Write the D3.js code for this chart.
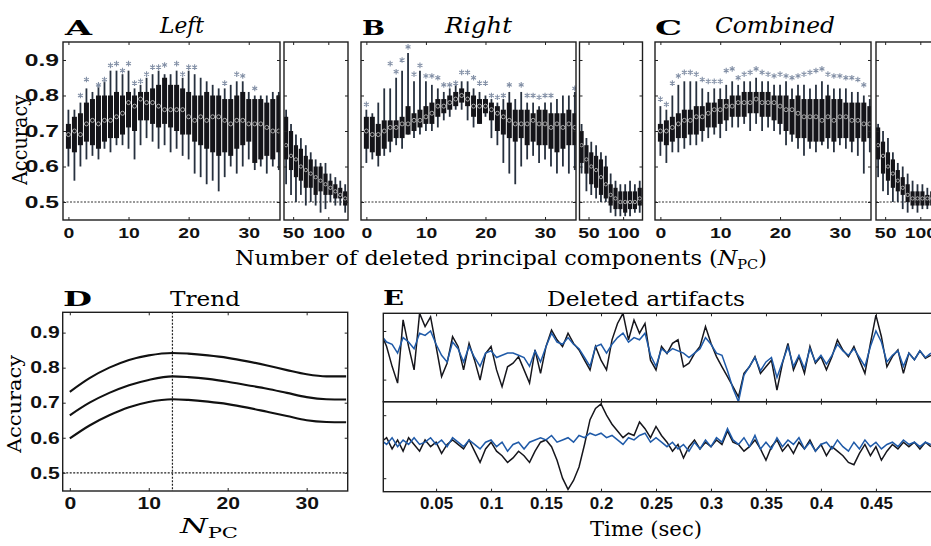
<!DOCTYPE html>
<html><head><meta charset="utf-8">
<script src="https://cdn.jsdelivr.net/npm/d3@7"></script>
<style>body{margin:0;background:#fff}svg{display:block}</style>
</head><body>
<script>
// ---------- DATA ----------
const npcMain = [0,1,2,3,4,5,6,7,8,9,10,11,12,13,14,15,16,17,18,19,20,21,22,23,24,25,26,27,28,29,30,31,32,33,34,35];
const npcSub = [40,47,54,61,68,75,82,89,96,103,110,117,124];
const mainTicks = [0,10,20,30];
const subTicks = [50,100];
const accTicks = [0.5,0.6,0.7,0.8,0.9];

const leftMed  = [0.69,0.70,0.69,0.72,0.73,0.72,0.73,0.73,0.74,0.75,0.78,0.77,0.79,0.78,0.78,0.77,0.76,0.76,0.76,0.76,0.74,0.73,0.74,0.73,0.74,0.74,0.73,0.72,0.73,0.73,0.72,0.72,0.72,0.71,0.70,0.70];
const leftQ1   = [0.65,0.64,0.66,0.67,0.66,0.65,0.67,0.68,0.68,0.69,0.71,0.70,0.73,0.73,0.72,0.71,0.72,0.71,0.70,0.69,0.69,0.67,0.66,0.65,0.64,0.63,0.64,0.63,0.65,0.66,0.67,0.61,0.62,0.63,0.62,0.64];
const leftQ3   = [0.72,0.74,0.75,0.78,0.79,0.80,0.80,0.80,0.81,0.80,0.81,0.80,0.81,0.81,0.82,0.83,0.85,0.83,0.83,0.82,0.81,0.80,0.80,0.81,0.80,0.80,0.79,0.79,0.80,0.81,0.79,0.79,0.79,0.78,0.79,0.80];
const leftLo   = [0.60,0.56,0.60,0.62,0.63,0.62,0.65,0.64,0.66,0.66,0.65,0.62,0.66,0.68,0.67,0.65,0.66,0.64,0.65,0.63,0.62,0.58,0.57,0.55,0.56,0.53,0.57,0.60,0.58,0.60,0.62,0.59,0.60,0.58,0.60,0.59];
const leftHi   = [0.76,0.76,0.78,0.82,0.81,0.83,0.84,0.87,0.87,0.86,0.87,0.82,0.83,0.85,0.86,0.87,0.86,0.86,0.87,0.85,0.87,0.86,0.85,0.84,0.83,0.82,0.82,0.83,0.84,0.84,0.81,0.80,0.80,0.80,0.81,0.81];
const leftStar = [null,null,0.80,0.845,null,0.83,0.845,0.885,0.89,0.87,0.89,0.835,0.84,0.86,0.88,0.88,0.886,null,0.89,0.86,0.88,0.88,null,null,null,null,0.835,null,0.86,0.855,null,0.82,null,null,null,null];
const leftSubMed = [0.66,0.63,0.62,0.60,0.59,0.58,0.57,0.56,0.55,0.54,0.53,0.52,0.51];
const leftSubQ1  = [0.62,0.59,0.57,0.56,0.54,0.54,0.52,0.53,0.52,0.52,0.51,0.51,0.49];
const leftSubQ3  = [0.74,0.70,0.66,0.65,0.63,0.62,0.60,0.60,0.58,0.56,0.55,0.54,0.53];
const leftSubLo  = [0.55,0.52,0.50,0.52,0.49,0.50,0.49,0.47,0.48,0.50,0.49,0.49,0.47];
const leftSubHi  = [0.76,0.72,0.69,0.68,0.66,0.64,0.62,0.61,0.61,0.58,0.57,0.56,0.55];

const rightMed  = [0.70,0.69,0.69,0.70,0.71,0.71,0.72,0.72,0.73,0.73,0.74,0.75,0.77,0.77,0.78,0.79,0.80,0.79,0.77,0.77,0.77,0.76,0.75,0.74,0.73,0.72,0.72,0.72,0.73,0.72,0.72,0.71,0.72,0.71,0.72,0.71];
const rightQ1   = [0.65,0.64,0.63,0.65,0.67,0.68,0.68,0.69,0.70,0.71,0.72,0.72,0.74,0.75,0.76,0.77,0.78,0.77,0.74,0.72,0.75,0.73,0.70,0.69,0.68,0.67,0.68,0.66,0.67,0.66,0.66,0.65,0.64,0.65,0.66,0.66];
const rightQ3   = [0.74,0.74,0.72,0.73,0.73,0.73,0.74,0.77,0.75,0.76,0.77,0.78,0.79,0.79,0.80,0.81,0.82,0.81,0.80,0.79,0.79,0.78,0.77,0.76,0.78,0.76,0.76,0.76,0.75,0.76,0.76,0.75,0.75,0.75,0.76,0.75];
const rightLo   = [0.61,0.62,0.60,0.63,0.64,0.66,0.65,0.69,0.68,0.69,0.70,0.70,0.71,0.73,0.74,0.76,0.76,0.73,0.71,0.72,0.74,0.68,0.66,0.61,0.58,0.55,0.60,0.62,0.63,0.61,0.62,0.60,0.58,0.60,0.58,0.59];
const rightHi   = [0.76,0.75,0.78,0.82,0.82,0.85,0.87,0.92,0.84,0.87,0.84,0.83,0.82,0.81,0.82,0.83,0.84,0.84,0.82,0.81,0.80,0.79,0.78,0.79,0.81,0.79,0.81,0.78,0.78,0.77,0.78,0.78,0.79,0.80,0.80,0.81];
const rightStar = [0.775,null,null,null,0.89,0.867,0.90,0.937,0.86,0.885,0.855,0.855,0.85,0.83,0.83,0.835,0.865,0.865,0.85,0.835,0.835,0.80,0.795,0.80,0.83,null,0.83,0.80,0.80,0.795,0.80,0.80,null,null,null,0.82];
const rightSubMed = [0.66,0.62,0.60,0.59,0.57,0.55,0.52,0.51,0.50,0.50,0.50,0.50,0.51];
const rightSubQ1  = [0.61,0.58,0.55,0.54,0.52,0.51,0.49,0.48,0.48,0.47,0.48,0.48,0.49];
const rightSubQ3  = [0.70,0.66,0.64,0.63,0.62,0.60,0.55,0.54,0.53,0.53,0.53,0.53,0.54];
const rightSubLo  = [0.58,0.53,0.52,0.51,0.50,0.50,0.47,0.46,0.46,0.46,0.46,0.47,0.47];
const rightSubHi  = [0.72,0.68,0.67,0.66,0.64,0.63,0.58,0.56,0.55,0.55,0.56,0.55,0.56];

const combMed  = [0.70,0.70,0.71,0.72,0.73,0.73,0.74,0.74,0.75,0.76,0.76,0.77,0.77,0.78,0.78,0.78,0.79,0.78,0.78,0.78,0.77,0.76,0.76,0.75,0.74,0.74,0.74,0.73,0.74,0.73,0.74,0.74,0.73,0.73,0.72,0.72];
const combQ1   = [0.67,0.66,0.67,0.68,0.68,0.69,0.69,0.70,0.71,0.71,0.72,0.73,0.74,0.74,0.74,0.75,0.75,0.74,0.74,0.73,0.72,0.70,0.69,0.68,0.68,0.67,0.67,0.67,0.68,0.67,0.68,0.68,0.67,0.68,0.67,0.68];
const combQ3   = [0.72,0.73,0.74,0.75,0.76,0.76,0.77,0.77,0.78,0.78,0.79,0.79,0.80,0.80,0.81,0.81,0.81,0.81,0.81,0.80,0.80,0.80,0.79,0.80,0.79,0.79,0.79,0.79,0.80,0.79,0.79,0.78,0.78,0.78,0.78,0.77];
const combLo   = [0.63,0.61,0.64,0.64,0.65,0.66,0.66,0.67,0.68,0.69,0.68,0.70,0.71,0.71,0.72,0.70,0.72,0.70,0.71,0.70,0.69,0.66,0.67,0.65,0.63,0.65,0.64,0.66,0.65,0.64,0.66,0.65,0.64,0.63,0.58,0.64];
const combHi   = [0.77,0.76,0.80,0.83,0.84,0.84,0.84,0.82,0.81,0.82,0.82,0.83,0.84,0.83,0.84,0.84,0.85,0.84,0.84,0.83,0.83,0.84,0.82,0.83,0.83,0.82,0.83,0.84,0.83,0.82,0.82,0.82,0.81,0.81,0.80,0.79];
const combStar = [0.79,0.775,0.835,0.855,0.865,0.865,0.86,0.845,0.84,0.84,0.84,0.87,0.875,0.85,0.86,0.865,0.875,0.865,0.86,0.855,0.86,0.855,0.85,0.855,0.86,0.865,0.87,0.875,0.86,0.855,0.855,0.85,0.85,0.845,0.83,null];
const combSubMed = [0.66,0.63,0.60,0.58,0.56,0.54,0.52,0.51,0.51,0.51,0.51,0.51,0.51];
const combSubQ1  = [0.62,0.58,0.56,0.54,0.53,0.52,0.50,0.49,0.49,0.49,0.49,0.49,0.49];
const combSubQ3  = [0.71,0.67,0.64,0.62,0.59,0.57,0.55,0.53,0.53,0.53,0.52,0.53,0.53];
const combSubLo  = [0.57,0.53,0.52,0.50,0.50,0.48,0.47,0.48,0.47,0.48,0.48,0.47,0.48];
const combSubHi  = [0.72,0.70,0.68,0.64,0.61,0.60,0.58,0.56,0.55,0.55,0.54,0.55,0.55];

const trendNpc   = [0,2.5,5,7.5,10,13,15,17.5,20,22.5,25,27.5,30,32.5,35];
const trendUpper = [0.731,0.77,0.80,0.822,0.835,0.842,0.84,0.835,0.828,0.818,0.806,0.793,0.781,0.775,0.775];
const trendMid   = [0.664,0.70,0.728,0.75,0.765,0.775,0.773,0.768,0.76,0.75,0.74,0.728,0.716,0.71,0.709];
const trendLower = [0.598,0.635,0.664,0.687,0.702,0.71,0.708,0.703,0.696,0.686,0.674,0.662,0.65,0.645,0.644];
const trendPeak = 13;

const timeSec = [0,0.005,0.01,0.015,0.02,0.025,0.03,0.035,0.04,0.045,0.05,0.055,0.06,0.065,0.07,0.075,0.08,0.085,0.09,0.095,0.1,0.105,0.11,0.115,0.12,0.125,0.13,0.135,0.14,0.145,0.15,0.155,0.16,0.165,0.17,0.175,0.18,0.185,0.19,0.195,0.2,0.205,0.21,0.215,0.22,0.225,0.23,0.235,0.24,0.245,0.25,0.255,0.26,0.265,0.27,0.275,0.28,0.285,0.29,0.295,0.3,0.305,0.31,0.315,0.32,0.325,0.33,0.335,0.34,0.345,0.35,0.355,0.36,0.365,0.37,0.375,0.38,0.385,0.39,0.395,0.4,0.405,0.41,0.415,0.42,0.425,0.43,0.435,0.44,0.445,0.45,0.455,0.46,0.465,0.47,0.475,0.48,0.485,0.49,0.495,0.5];
const timeTicks = [0.05,0.1,0.15,0.2,0.25,0.3,0.35,0.4,0.45];
const eTopBlack = [0.55,0.25,-0.2,-0.58,0.85,0.25,-0.28,1.0,0.7,0.92,
 0.25,-0.43,-0.13,0.47,0.25,-0.28,0.32,-0.06,-0.51,0.09,
 0.25,-0.28,-0.66,-0.21,-0.13,0.02,-0.28,-0.58,0.17,-0.36,
 0.25,0.62,0.4,0.25,0.55,0.32,0.17,-0.06,-0.28,0.25,
 -0.06,-0.28,0.4,0.77,1.0,0.4,0.85,0.55,0.77,-0.06,
 -0.28,0.25,0.09,0.32,0.4,-0.21,-0.13,0.09,0.25,0.7,
 0.32,0.02,-0.21,-0.43,-0.66,-0.89,-0.36,-0.21,0.02,-0.36,
 -0.21,-0.06,-0.74,-0.13,0.32,-0.28,0.02,-0.36,0.25,-0.13,
 0.02,-0.28,0.02,0.4,0.17,0.02,0.25,-0.06,-0.36,0.32,
 0.96,0.47,-0.21,0.02,0.17,-0.36,0.1,-0.05,0.15,-0.02,0.05];
const eTopBlue = [0.5,0.35,0.3,0.1,0.45,0.35,0.2,0.55,0.5,0.6,
 0.3,0.05,-0.1,0.35,0.2,-0.1,0.25,0.0,-0.2,0.1,
 0.15,0.0,0.05,0.1,0.1,0.05,0.0,-0.2,0.15,-0.1,
 0.25,0.55,0.35,0.3,0.45,0.3,0.2,0.0,-0.2,0.25,
 0.3,0.1,0.3,0.45,0.55,0.35,0.45,0.4,0.55,0.05,
 -0.2,0.2,0.1,0.2,0.15,0.1,0.0,0.1,0.2,0.45,
 0.3,0.1,0.05,-0.3,-0.7,-1.0,-0.4,-0.2,0.0,-0.3,
 -0.1,0.0,-0.45,-0.1,0.25,-0.2,0.05,-0.25,0.2,-0.1,
 0.05,-0.15,0.05,0.3,0.15,0.05,0.2,0.0,-0.2,0.25,
 0.6,0.35,-0.1,0.05,0.15,-0.2,0.1,-0.05,0.15,0.0,0.1];
const eBotBlack = [0.1,0.2,-0.05,0.15,-0.1,0.2,0.05,-0.1,0.15,0.0,
 0.1,-0.15,0.05,0.15,0.05,-0.05,0.15,-0.1,-0.35,-0.05,
 0.1,-0.1,-0.2,-0.35,-0.25,-0.1,-0.2,-0.35,-0.1,0.1,
 0.15,0.0,-0.3,-0.7,-0.95,-0.75,-0.45,0.05,0.6,0.85,
 0.95,0.7,0.5,0.35,0.2,0.3,0.25,0.55,0.4,0.2,
 0.45,0.25,0.1,-0.1,0.05,-0.25,0.0,0.15,-0.05,0.1,
 0.0,0.15,0.05,0.35,0.1,0.05,-0.1,0.0,0.15,-0.05,
 -0.3,0.0,0.15,-0.1,0.05,-0.15,0.1,-0.05,0.15,-0.1,
 0.05,-0.2,0.0,-0.1,-0.2,-0.35,-0.4,-0.15,0.05,-0.2,
 0.0,-0.3,-0.1,0.05,-0.05,0.1,0.0,0.1,-0.05,0.1,0.0];
const eBotBlue = [0.15,0.05,0.2,0.0,0.15,0.05,0.2,0.05,0.1,0.2,
 0.05,0.15,0.0,0.2,0.1,0.0,0.15,0.05,-0.05,0.1,
 0.15,0.0,0.1,-0.1,0.05,0.1,-0.05,0.1,0.15,0.2,
 0.15,0.25,0.1,0.15,0.2,0.1,0.25,0.2,0.3,0.25,
 0.3,0.2,0.25,0.15,0.05,0.2,0.15,0.25,0.3,0.1,
 0.2,0.1,0.0,0.1,-0.05,0.05,-0.1,0.1,-0.05,0.15,
 0.0,0.2,0.1,0.4,0.15,0.05,0.2,0.0,0.25,-0.05,
 0.1,-0.05,0.2,0.0,0.15,0.05,0.2,-0.05,0.1,-0.1,
 0.05,0.1,-0.05,0.15,0.0,-0.1,0.1,-0.05,0.15,0.0,
 0.1,-0.05,0.05,0.1,0.0,0.15,0.05,0.1,0.0,0.1,0.05];

// ---------- DRAWING ----------
const SERIF = "'DejaVu Serif', serif";
const SANS = "'Liberation Sans', Arial, sans-serif";
const svg = d3.select('body').append('svg').attr('width',931).attr('height',546);
svg.append('rect').attr('width',931).attr('height',546).attr('fill','#fff');

function fit(t, w){ return t.attr('textLength', w).attr('lengthAdjust','spacingAndGlyphs'); }
function stretch(sel, f){ sel.each(function(){ const n=this.getComputedTextLength(); d3.select(this).attr('textLength', n*f).attr('lengthAdjust','spacingAndGlyphs'); }); }
const asterisk = d3.symbolAsterisk || d3.symbolCross;

const yAcc = d3.scaleLinear().domain([0.4493,0.9507]).range([220,42]);
const TOP=42, BOT=220;

const panels = [
  {letter:'A', lx:65, lw:27, title:'Left', tx:160, tw:44, mx:63, mw:217, sx:284, sw:64, ylab:true,
   d:[leftMed,leftQ1,leftQ3,leftLo,leftHi,leftStar], s:[leftSubMed,leftSubQ1,leftSubQ3,leftSubLo,leftSubHi]},
  {letter:'B', lx:362, lw:23, title:'Right', tx:445, tw:67, mx:361, mw:215, sx:579.5, sw:63, ylab:false,
   d:[rightMed,rightQ1,rightQ3,rightLo,rightHi,rightStar], s:[rightSubMed,rightSubQ1,rightSubQ3,rightSubLo,rightSubHi]},
  {letter:'C', lx:655, lw:27, title:'Combined', tx:715, tw:120, mx:655, mw:216, sx:876, sw:64, ylab:false,
   d:[combMed,combQ1,combQ3,combLo,combHi,combStar], s:[combSubMed,combSubQ1,combSubQ3,combSubLo,combSubHi]}
];

function drawBoxes(g, x, pos, arr, bw){
  const [med,q1,q3,lo,hi,star] = arr;
  pos.forEach((p,i)=>{
    const cx=x(p);
    g.append('line').attr('x1',cx).attr('x2',cx).attr('y1',yAcc(lo[i])).attr('y2',yAcc(hi[i]))
      .attr('stroke','#27313f').attr('stroke-width',1.8);
  });
  pos.forEach((p,i)=>{
    const cx=x(p);
    g.append('rect').attr('x',cx-bw/2).attr('width',bw).attr('y',yAcc(q3[i])).attr('height',yAcc(q1[i])-yAcc(q3[i]))
      .attr('fill','#141419');
  });
  pos.forEach((p,i)=>{
    g.append('circle').attr('cx',x(p)).attr('cy',yAcc(med[i])).attr('r',Math.min(2.1,bw*0.4))
      .attr('fill','none').attr('stroke','#c9c9c9').attr('stroke-width',0.8);
    if(star && star[i]!=null){
      g.append('path').attr('d',d3.symbol(asterisk,22)()).attr('transform',`translate(${x(p)},${yAcc(star[i])})`)
        .attr('stroke','#8390a6').attr('stroke-width',1.1).attr('fill','none');
    }
  });
}

function frame(g, x0, x1, y0, y1){
  g.append('rect').attr('x',x0).attr('y',y0).attr('width',x1-x0).attr('height',y1-y0)
    .attr('fill','none').attr('stroke','#1e1e1e').attr('stroke-width',1.4);
}

panels.forEach(P=>{
  const g = svg.append('g');
  const xm = d3.scaleLinear().domain([-0.9,35.2]).range([P.mx, P.mx+P.mw]);
  const xs = d3.scaleLinear().domain([37,128]).range([P.sx, P.sx+P.sw]);
  [[P.mx,P.mx+P.mw],[P.sx,P.sx+P.sw]].forEach(([a,b])=>{
    g.append('line').attr('x1',a).attr('x2',b).attr('y1',yAcc(0.5)).attr('y2',yAcc(0.5))
      .attr('stroke','#333').attr('stroke-width',1.1).attr('stroke-dasharray','2,1.5');
  });
  const cidm = 'clipm'+P.letter, cids = 'clips'+P.letter;
  svg.append('clipPath').attr('id',cidm).append('rect').attr('x',P.mx).attr('y',TOP).attr('width',P.mw).attr('height',BOT-TOP);
  svg.append('clipPath').attr('id',cids).append('rect').attr('x',P.sx).attr('y',TOP).attr('width',P.sw).attr('height',BOT-TOP);
  drawBoxes(g.append('g').attr('clip-path',`url(#${cidm})`), xm, npcMain, P.d, 5.0);
  drawBoxes(g.append('g').attr('clip-path',`url(#${cids})`), xs, npcSub, P.s, 4.2);
  frame(g, P.mx, P.mx+P.mw, TOP, BOT);
  frame(g, P.sx, P.sx+P.sw, TOP, BOT);
  const ax = g.append('g').attr('transform',`translate(0,${BOT})`).call(d3.axisBottom(xm).tickValues(mainTicks).tickSize(-3).tickPadding(7));
  const ax2 = g.append('g').attr('transform',`translate(0,${BOT})`).call(d3.axisBottom(xs).tickValues(subTicks).tickSize(-3).tickPadding(7));
  g.append('g').attr('transform',`translate(0,${TOP})`).call(d3.axisTop(xm).tickValues(mainTicks).tickSize(-3).tickFormat(''));
  g.append('g').attr('transform',`translate(0,${TOP})`).call(d3.axisTop(xs).tickValues(subTicks).tickSize(-3).tickFormat(''));
  const ay = g.append('g').attr('transform',`translate(${P.mx},0)`).call(d3.axisLeft(yAcc).tickValues(accTicks).tickSize(-3).tickPadding(4).tickFormat(P.ylab? d3.format('.1f') : ''));
  g.append('g').attr('transform',`translate(${P.mx+P.mw},0)`).call(d3.axisRight(yAcc).tickValues(accTicks).tickSize(-3).tickFormat(''));
  g.append('g').attr('transform',`translate(${P.sx},0)`).call(d3.axisLeft(yAcc).tickValues(accTicks).tickSize(-3).tickFormat(''));
  g.append('g').attr('transform',`translate(${P.sx+P.sw},0)`).call(d3.axisRight(yAcc).tickValues(accTicks).tickSize(-3).tickFormat(''));
  g.selectAll('.domain').remove();
  g.selectAll('.tick line').attr('stroke','#222');
  g.selectAll('.tick text').attr('font-family',SANS).attr('font-weight','bold').attr('fill','#111');
  [ax,ax2].forEach(a=>{ a.selectAll('text').attr('font-size',15.5); stretch(a.selectAll('text'),1.25); });
  ay.selectAll('text').attr('font-size',17);
  if(P.ylab) stretch(ay.selectAll('text'),1.45);
  fit(svg.append('text').attr('x',P.lx).attr('y',35).attr('font-family',SERIF).attr('font-weight','bold').attr('font-size',21).text(P.letter), P.lw);
  fit(svg.append('text').attr('x',P.tx).attr('y',33).attr('font-family',SERIF).attr('font-style','italic').attr('font-size',22).text(P.title), P.tw);
});

fit(svg.append('text').attr('transform','rotate(-90)').attr('x',-185).attr('y',27).attr('font-family',SERIF).attr('font-size',20).text('Accuracy'), 90);
const xl = svg.append('text').attr('x',235).attr('y',265).attr('font-family',SERIF).attr('font-size',20);
xl.append('tspan').text('Number of deleted principal components (');
xl.append('tspan').attr('font-style','italic').text('N');
xl.append('tspan').attr('font-size',13).attr('dy',4).text('PC');
xl.append('tspan').attr('dy',-4).text(')');
fit(xl, 532);

// ---------- Panel D ----------
{
  const g = svg.append('g');
  const x0=62.7, x1=347.7, y0=312.3, y1=491;
  const x = d3.scaleLinear().domain([-0.9,35.2]).range([x0,x1]);
  const y = d3.scaleLinear().domain([0.448,0.958]).range([y1,y0]);
  g.append('line').attr('x1',x0).attr('x2',x1).attr('y1',y(0.5)).attr('y2',y(0.5)).attr('stroke','#222').attr('stroke-width',1.2).attr('stroke-dasharray','2,1.5');
  g.append('line').attr('x1',x(trendPeak)).attr('x2',x(trendPeak)).attr('y1',y0).attr('y2',y1).attr('stroke','#222').attr('stroke-width',1.2).attr('stroke-dasharray','2,1.5');
  const line = d3.line().x((d,i)=>x(trendNpc[i])).y(d=>y(d)).curve(d3.curveMonotoneX);
  [trendUpper,trendMid,trendLower].forEach(s=>g.append('path').attr('d',line(s)).attr('fill','none').attr('stroke','#111').attr('stroke-width',2.1));
  frame(g,x0,x1,y0,y1);
  const ax = g.append('g').attr('transform',`translate(0,${y1})`).call(d3.axisBottom(x).tickValues(mainTicks).tickSize(-3).tickPadding(6));
  g.append('g').attr('transform',`translate(0,${y0})`).call(d3.axisTop(x).tickValues(mainTicks).tickSize(-3).tickFormat(''));
  const ay = g.append('g').attr('transform',`translate(${x0},0)`).call(d3.axisLeft(y).tickValues(accTicks).tickSize(-3).tickPadding(3).tickFormat(d3.format('.1f')));
  g.append('g').attr('transform',`translate(${x1},0)`).call(d3.axisRight(y).tickValues(accTicks).tickSize(-3).tickFormat(''));
  g.selectAll('.domain').remove();
  g.selectAll('.tick line').attr('stroke','#222');
  [ax,ay].forEach(a=>{ a.selectAll('text').attr('font-family',SANS).attr('font-weight','bold').attr('font-size',16.5).attr('fill','#111'); stretch(a.selectAll('text'),1.28); });
  fit(svg.append('text').attr('x',63).attr('y',306).attr('font-family',SERIF).attr('font-weight','bold').attr('font-size',21).text('D'), 29);
  fit(svg.append('text').attr('x',170).attr('y',306).attr('font-family',SERIF).attr('font-size',21).text('Trend'), 70);
  fit(svg.append('text').attr('transform','rotate(-90)').attr('x',-453).attr('y',21).attr('font-family',SERIF).attr('font-size',19).text('Accuracy'), 98);
  const nl = svg.append('text').attr('x',180).attr('y',533).attr('font-family',SERIF).attr('font-size',21);
  nl.append('tspan').attr('font-style','italic').text('N');
  nl.append('tspan').attr('font-size',14).attr('dy',5).text('PC');
  fit(nl, 58);
}

// ---------- Panel E ----------
{
  const g = svg.append('g');
  const x0=383.3, x1=932, yT=313.3, yM=401.7, yB=491.7;
  const x = d3.scaleLinear().domain([0.002,0.501]).range([x0,x1]);
  const yTop = d3.scaleLinear().domain([-1,1]).range([yM,yT]);
  const yBot = d3.scaleLinear().domain([-1,1]).range([yB,yM]);
  svg.append('clipPath').attr('id','clipET').append('rect').attr('x',x0).attr('y',yT).attr('width',x1-x0).attr('height',yM-yT);
  svg.append('clipPath').attr('id','clipEB').append('rect').attr('x',x0).attr('y',yM).attr('width',x1-x0).attr('height',yB-yM);
  const mk = (ys)=> d3.line().x((d,i)=>x(timeSec[i])).y(d=>ys(d));
  const gt = g.append('g').attr('clip-path','url(#clipET)');
  const gbt = g.append('g').attr('clip-path','url(#clipEB)');
  gt.append('path').attr('d',mk(yTop)(eTopBlack)).attr('fill','none').attr('stroke','#16161c').attr('stroke-width',1.5);
  gt.append('path').attr('d',mk(yTop)(eTopBlue)).attr('fill','none').attr('stroke','#1f5aa8').attr('stroke-width',1.5);
  gbt.append('path').attr('d',mk(yBot)(eBotBlack)).attr('fill','none').attr('stroke','#16161c').attr('stroke-width',1.5);
  gbt.append('path').attr('d',mk(yBot)(eBotBlue)).attr('fill','none').attr('stroke','#1f5aa8').attr('stroke-width',1.5);
  frame(g,x0,x1,yT,yM);
  frame(g,x0,x1,yM,yB);
  const ax = g.append('g').attr('transform',`translate(0,${yB})`).call(d3.axisBottom(x).tickValues(timeTicks).tickSize(-3).tickPadding(6).tickFormat(d=>String(d)));
  g.append('g').attr('transform',`translate(0,${yT})`).call(d3.axisTop(x).tickValues(timeTicks).tickSize(-3).tickFormat(''));
  g.append('g').attr('transform',`translate(0,${yM})`).call(d3.axisTop(x).tickValues(timeTicks).tickSize(-3).tickFormat(''));
  g.append('g').attr('transform',`translate(0,${yM})`).call(d3.axisBottom(x).tickValues(timeTicks).tickSize(-3).tickFormat(''));
  g.append('g').attr('transform',`translate(${x0},0)`).call(d3.axisLeft(yTop).tickValues([-0.5,0.6]).tickSize(-3).tickFormat(''));
  g.append('g').attr('transform',`translate(${x0},0)`).call(d3.axisLeft(yBot).tickValues([-0.7,0.7]).tickSize(-3).tickFormat(''));
  g.selectAll('.domain').remove();
  g.selectAll('.tick line').attr('stroke','#222');
  ax.selectAll('text').attr('font-family',SANS).attr('font-weight','bold').attr('font-size',16).attr('fill','#111');
  stretch(ax.selectAll('text'),1.06);
  fit(svg.append('text').attr('x',383).attr('y',305).attr('font-family',SERIF).attr('font-weight','bold').attr('font-size',21).text('E'), 21);
  fit(svg.append('text').attr('x',547).attr('y',306).attr('font-family',SERIF).attr('font-size',21).text('Deleted artifacts'), 198);
  fit(svg.append('text').attr('x',590).attr('y',536).attr('font-family',SERIF).attr('font-size',21).text('Time (sec)'), 112);
}
</script>
</body></html>
